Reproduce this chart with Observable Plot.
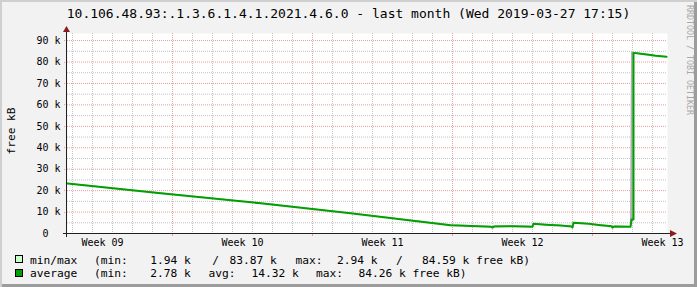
<!DOCTYPE html>
<html>
<head>
<meta charset="utf-8">
<script src="https://cdn.jsdelivr.net/npm/d3@7"></script>
<script src="https://cdn.jsdelivr.net/npm/@observablehq/plot@0.6"></script>
<style>
  html, body { margin: 0; padding: 0; background: #ffffff; }
  #fig {
    position: relative; width: 697px; height: 287px; overflow: hidden;
    background: #f2f2f2;
    box-shadow: inset 2px 2px 0 #cfcfcf, inset -3px -3px 0 #9c9c9c;
    font-family: "DejaVu Sans Mono", monospace; color: #000;
  }
  #fig .abs { position: absolute; white-space: pre; }
  #title { left: 0; top: 5px; width: 697px; text-align: center; font-size: 13px; line-height: 17px; }
  #chart { position: absolute; left: 0; top: 22px; }
  #ylabel { font-size: 11.2px; line-height: 13px; transform: translate(-50%, -50%) rotate(-90deg); }
  #mark { font-size: 8.3px; line-height: 9px; color: #a8a8a8; transform: translate(-50%, -50%) rotate(90deg); }
  .leg { font-size: 11.23px; line-height: 13px; }
  .box { position: absolute; width: 6px; height: 6px; border: 1px solid #000; }
</style>
</head>
<body>
<div id="fig">
  <div id="title" class="abs"></div>
  <div id="chart"></div>
</div>
<script>
// ---------- data ----------
const titleText = "10.106.48.93:.1.3.6.1.4.1.2021.4.6.0 - last month (Wed 2019-03-27 17:15)";
const yLabel = "free kB";
const watermark = "RRDTOOL / TOBI OETIKER";
const rangeStart = "2019-02-25T18:00";
const rangeEnd = "2019-03-27T18:00";
const yMax = 93.3; // k
const yTicks = [0, 10, 20, 30, 40, 50, 60, 70, 80, 90];
const weekLabels = ["Week 09", "Week 10", "Week 11", "Week 12", "Week 13"];
const weekLabelTimes = ["2019-02-27T12:00", "2019-03-06T12:00", "2019-03-13T12:00", "2019-03-20T12:00", "2019-03-27T12:00"];

const sampleTime = [
  "2019-02-25T18:00", "2019-03-02T09:36", "2019-03-07T09:36", "2019-03-11T21:36", "2019-03-16T21:36",
  "2019-03-17T21:36", "2019-03-18T21:36", "2019-03-19T00:00", "2019-03-19T02:24", "2019-03-20T00:00",
  "2019-03-21T00:00", "2019-03-21T01:12", "2019-03-21T15:36", "2019-03-22T09:36", "2019-03-22T22:48",
  "2019-03-23T00:00", "2019-03-23T01:12", "2019-03-23T19:12", "2019-03-24T09:36", "2019-03-24T22:48",
  "2019-03-25T00:00", "2019-03-25T02:24", "2019-03-25T21:36", "2019-03-25T22:48", "2019-03-26T01:12",
  "2019-03-26T01:12", "2019-03-26T09:36", "2019-03-26T19:12", "2019-03-27T03:36", "2019-03-27T16:48"
];
// free kB, in thousands
const avgValue = [
  23.3, 18.8, 14.1, 9.4, 3.9,
  3.5, 3.2, 2.8, 3.3, 3.4,
  3.2, 4.5, 4.1, 3.7, 3.3,
  2.8, 5.0, 4.5, 3.9, 3.4,
  2.78, 3.3, 3.1, 6.5, 6.5,
  84.26, 83.9, 83.4, 82.9, 82.4
];
const minValue = [
  23.1, 18.6, 13.9, 9.2, 3.7,
  3.3, 3.0, 2.2, 3.1, 3.2,
  3.0, 4.3, 3.9, 3.5, 3.1,
  2.3, 4.8, 4.3, 3.7, 3.2,
  1.94, 3.1, 2.9, 3.0, 6.3,
  83.87, 83.7, 83.2, 82.7, 82.2
];
const maxValue = [
  23.5, 19.0, 14.3, 9.6, 4.1,
  3.7, 3.4, 3.3, 3.5, 3.6,
  3.4, 4.7, 4.3, 3.9, 3.5,
  3.3, 5.2, 4.7, 4.1, 3.6,
  2.94, 3.5, 3.3, 84.59, 84.59,
  84.5, 84.1, 83.6, 83.1, 82.6
];
const minmaxStats = [1.94, 83.87, 2.94, 84.59];
const avgStats = [2.78, 14.32, 84.26];

// ---------- build ----------
const parse = s => new Date(s + "Z");
const X0 = parse(rangeStart), X1 = parse(rangeEnd);
const data = sampleTime.map((t, i) => ({t: parse(t), avg: avgValue[i], min: minValue[i], max: maxValue[i]}));
const labelMap = new Map(weekLabelTimes.map((t, i) => [+parse(t), weekLabels[i]]));
const minorDays = d3.utcDay.range(X0, X1).filter(d => d.getUTCDay() !== 0);
const weekStarts = d3.utcSunday.range(X0, X1);
const minorY = d3.range(5, yMax, 10);
const majorY = yTicks.filter(v => v > 0);
const gridGrey = "#c4c4c4", gridRed = "#e89c9c";

const plot = Plot.plot({
  width: 697, height: 226,
  marginLeft: 67, marginRight: 30, marginTop: 11, marginBottom: 15,
  style: {background: "transparent", fontFamily: "DejaVu Sans Mono", fontSize: "10px", color: "#000", overflow: "visible"},
  x: {type: "utc", domain: [X0, X1]},
  y: {domain: [0, yMax]},
  marks: [
    Plot.frame({fill: "#ffffff", stroke: "none"}),
    Plot.ruleX(minorDays, {stroke: gridGrey, strokeDasharray: "1,1"}),
    Plot.ruleY(minorY, {stroke: gridGrey, strokeDasharray: "1,1"}),
    Plot.ruleX(weekStarts, {stroke: gridRed, strokeDasharray: "1,1"}),
    Plot.ruleY(majorY, {stroke: gridRed, strokeDasharray: "1,1"}),
    Plot.areaY(data, {x: "t", y1: "min", y2: "max", fill: "#b0b0b0"}),
    Plot.line(data, {x: "t", y: "avg", stroke: "#00a000", strokeWidth: 2}),
    Plot.axisX({ticks: weekLabelTimes.map(parse), tickFormat: d => labelMap.get(+d), tickSize: 0, tickPadding: 5, label: null, fill: "#000"}),
    Plot.axisY({ticks: yTicks, tickFormat: v => v === 0 ? "0\u00a0\u00a0" : v + " k", tickSize: 0, tickPadding: 7, label: null, fill: "#000"})
  ]
});

// axis lines, outside ticks and arrows, positioned through the scales
const sx = plot.scale("x"), sy = plot.scale("y");
const ax0 = sx.apply(X0), ax1 = sx.apply(X1), ay0 = sy.apply(0), ayT = sy.apply(yMax);
const g = d3.select(plot).append("g");
weekStarts.forEach(d => {
  const x = Math.round(sx.apply(d)) + 0.5;
  g.append("line").attr("x1", x).attr("x2", x).attr("y1", ay0).attr("y2", ay0 + 3).attr("stroke", gridRed);
});
majorY.forEach(v => {
  const y = Math.round(sy.apply(v)) + 0.5;
  g.append("line").attr("x1", ax0 - 3).attr("x2", ax0).attr("y1", y).attr("y2", y).attr("stroke", gridRed).attr("stroke-dasharray", "1,1");
});
const axisColor = "#202020", arrowColor = "#8c1c1c";
const yl = Math.round(ay0) + 0.5, xl = Math.round(ax0) - 0.5;
g.append("line").attr("x1", ax0 - 4).attr("x2", ax1 + 3).attr("y1", yl).attr("y2", yl).attr("stroke", axisColor);
g.append("line").attr("x1", xl).attr("x2", xl).attr("y1", ay0 + 4).attr("y2", ayT - 2).attr("stroke", axisColor);
g.append("path").attr("d", `M${ax1 + 3},${yl - 3.5}L${ax1 + 10},${yl}L${ax1 + 3},${yl + 3.5}Z`).attr("fill", arrowColor);
g.append("path").attr("d", `M${xl - 3.5},${ayT - 1}L${xl},${ayT - 7}L${xl + 3.5},${ayT - 1}Z`).attr("fill", arrowColor);

document.getElementById("chart").appendChild(plot);
const fig = document.getElementById("fig");
document.getElementById("title").textContent = titleText;

function addText(txt, left, top, cls, id) {
  const el = document.createElement("div");
  el.className = "abs " + cls;
  if (id) el.id = id;
  el.style.left = left + "px";
  el.style.top = top + "px";
  el.textContent = txt;
  fig.appendChild(el);
  return el;
}
addText(yLabel, 10.5, 131, "", "ylabel");
addText(watermark, 688.5, 60, "", "mark");

// legend
const f2 = d3.format(".2f");
function box(left, top, color) {
  const b = document.createElement("div");
  b.className = "box";
  b.style.left = left + "px"; b.style.top = top + "px"; b.style.background = color;
  fig.appendChild(b);
}
box(15, 255, "#ccffcc");
box(15, 268.5, "#00a000");
const r1 = 253.5, r2 = 267;
[["min/max", 30], ["(min:", 94], [f2(minmaxStats[0]) + " k", 150.3], ["/", 212.3], [f2(minmaxStats[1]) + " k", 229.5],
 ["max:", 295.5], [f2(minmaxStats[2]) + " k", 337], ["/", 396], [f2(minmaxStats[3]) + " k free kB)", 422]]
  .forEach(([t, x]) => addText(t, x, r1, "leg"));
[["average", 30], ["(min:", 94], [f2(avgStats[0]) + " k", 150.3], ["avg:", 208.6], [f2(avgStats[1]) + " k", 251.5],
 ["max:", 316], [f2(avgStats[2]) + " k free kB)", 358.4]]
  .forEach(([t, x]) => addText(t, x, r2, "leg"));
</script>
</body>
</html>
